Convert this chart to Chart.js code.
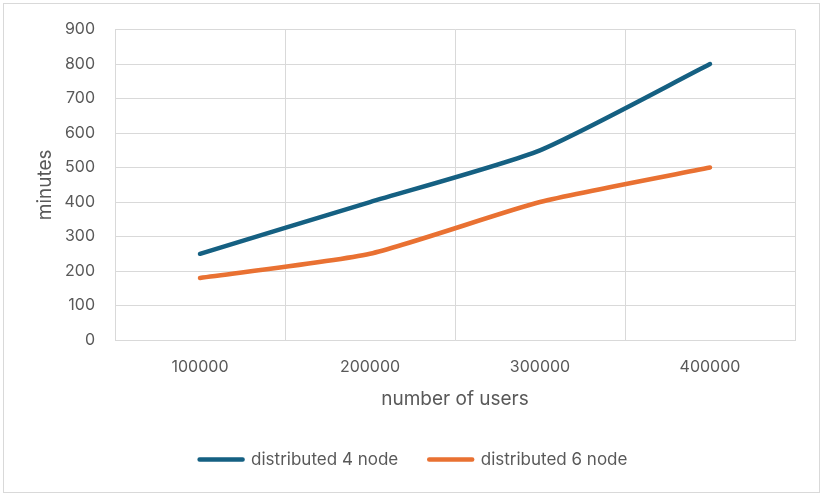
<!DOCTYPE html>
<html>
<head>
<meta charset="utf-8">
<script src="https://cdn.jsdelivr.net/npm/chart.js@4"></script>
<style>
  html, body { margin: 0; padding: 0; background: #fff; }
  #wrap { position: relative; width: 824px; height: 497px; }
  #frame { position: absolute; left: 3px; top: 3px; width: 815px; height: 488px; border: 1px solid #d9d9d9; pointer-events: none; }
</style>
</head>
<body>
<div id="wrap">
  <canvas id="chart" width="824" height="497"></canvas>
  <div id="frame"></div>
</div>
<script>
// values
const users = ['100000', '200000', '300000', '400000'];
const node4 = [250, 400, 550, 800];
const node6 = [180, 250, 400, 500];

const textColor = '#595959';
const gridColor = '#d9d9d9';
const fontFamily = 'Inter, "Open Sans", sans-serif';

const ctx = document.getElementById('chart');
new Chart(ctx, {
  type: 'line',
  data: {
    labels: users,
    datasets: [
      { label: 'distributed 4 node', data: node4, borderColor: '#156082', backgroundColor: '#156082' },
      { label: 'distributed 6 node', data: node6, borderColor: '#e97132', backgroundColor: '#e97132' }
    ]
  },
  options: {
    responsive: false,
    animation: false,
    datasets: { line: { borderWidth: 4.5, pointRadius: 0, tension: 0.2, borderCapStyle: 'round', borderJoinStyle: 'round' } },
    layout: { padding: { top: 21, right: 29, left: 32, bottom: 19 } },
    scales: {
      x: {
        offset: true,
        grid: { offset: true, color: gridColor, drawTicks: false },
        border: { color: gridColor },
        ticks: { color: textColor, font: { family: fontFamily, size: 16 }, padding: 18 },
        title: { display: true, text: 'number of users', color: textColor, font: { family: fontFamily, size: 19 }, padding: { top: 8, bottom: 9 } },
        afterFit: s => { s.height = 80; }
      },
      y: {
        min: 0, max: 900,
        ticks: { stepSize: 100, color: textColor, font: { family: fontFamily, size: 16 }, padding: 20 },
        grid: { color: gridColor, drawTicks: false },
        border: { color: gridColor },
        title: { display: true, text: 'minutes', color: textColor, font: { family: fontFamily, size: 19 }, padding: { top: 2, bottom: 0 } },
        afterFit: s => { s.width = 83; }
      }
    },
    plugins: {
      legend: {
        position: 'bottom',
        labels: { color: textColor, font: { family: fontFamily, size: 17 }, boxWidth: 43, boxHeight: 0, padding: 31 }
      },
      tooltip: { enabled: false }
    }
  }
});
</script>
</body>
</html>
